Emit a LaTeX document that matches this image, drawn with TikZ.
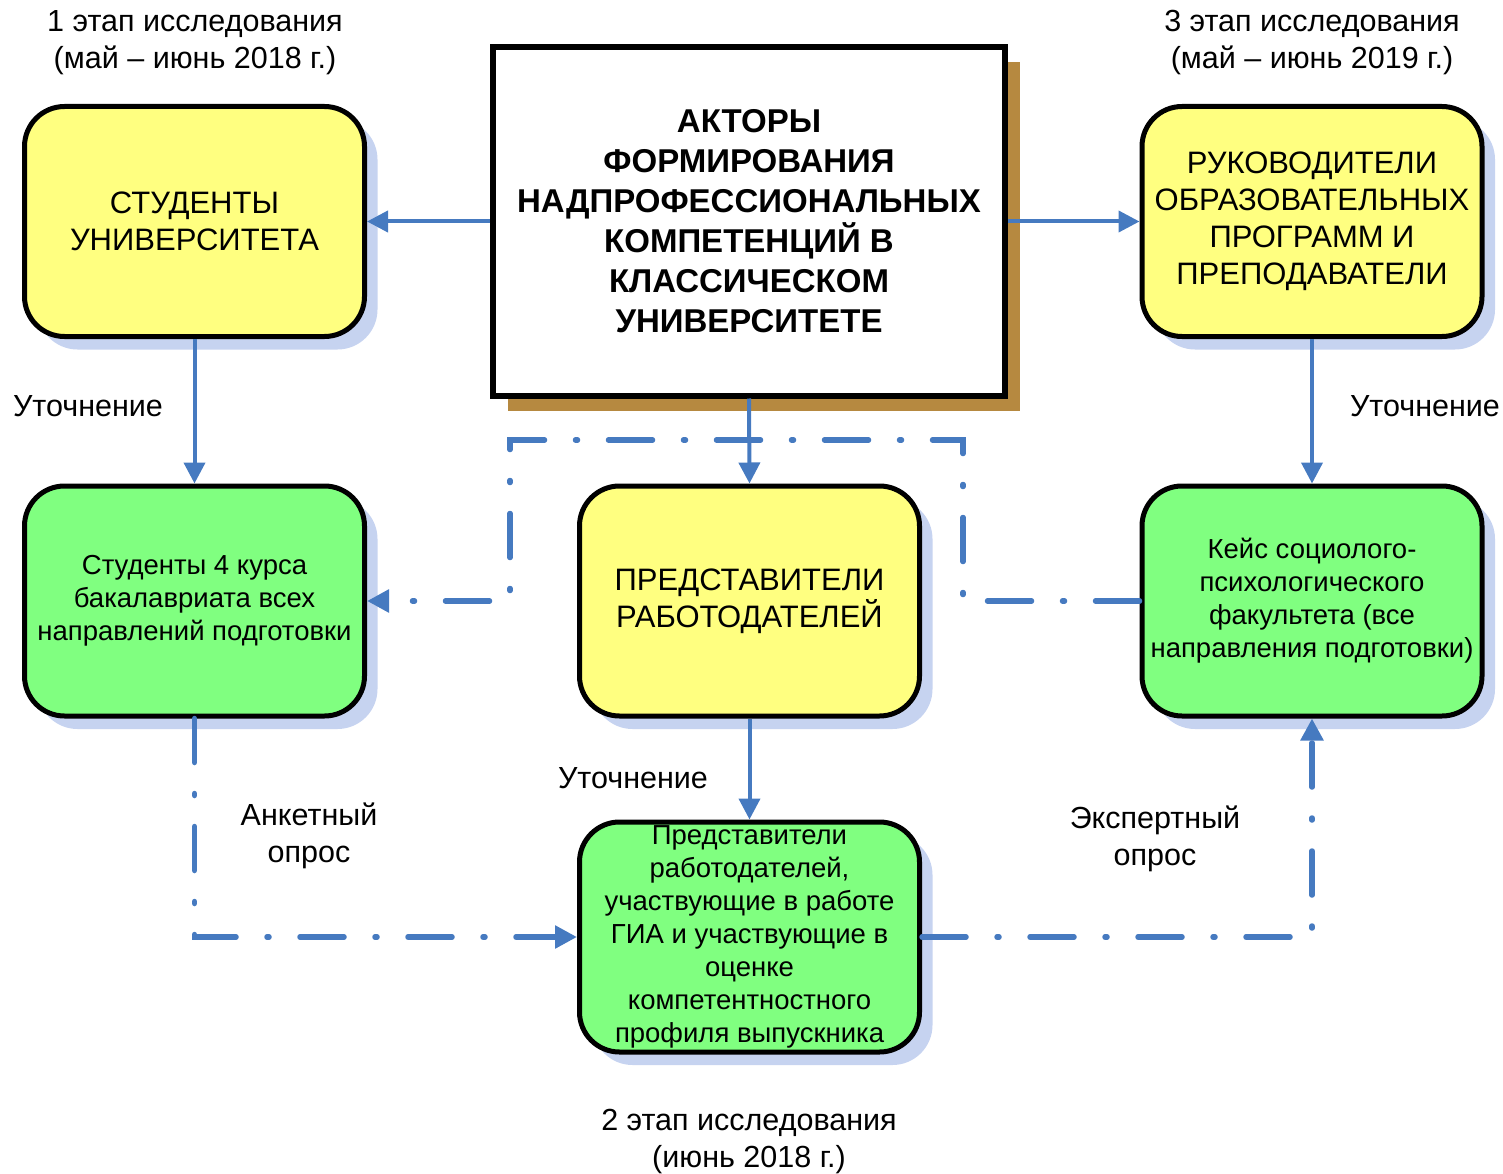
\documentclass[tikz,border=0pt]{standalone}
\usepackage{fontspec}
\setmainfont{Liberation Sans}
\usetikzlibrary{arrows.meta,shadows}
\definecolor{boxyellow}{RGB}{255,255,128}
\definecolor{boxgreen}{RGB}{128,255,128}
\definecolor{linkblue}{RGB}{70,122,192}
\definecolor{shadowblue}{RGB}{198,211,240}
\definecolor{shadowbrown}{RGB}{182,137,64}
\tikzset{
  actor/.style={draw=black, line width=5pt, rounded corners=40pt,
    minimum width=340pt, minimum height=230pt, inner sep=0pt, align=center,
    general shadow={shadow xshift=13pt, shadow yshift=-13pt, fill=shadowblue}},
  yellowbox/.style={actor, fill=boxyellow, font=\fontsize{31}{37}\selectfont},
  greenbox/.style={actor, fill=boxgreen, font=\fontsize{27.5}{33}\selectfont},
  mainbox/.style={draw=black, line width=6pt, fill=white,
    minimum width=512pt, minimum height=348pt, inner sep=0pt, align=center,
    font=\bfseries\fontsize{33}{40}\selectfont,
    general shadow={shadow xshift=15pt, shadow yshift=-15pt, fill=shadowbrown}},
  solidarrow/.style={draw=linkblue, line width=4pt, -{Triangle[length=21pt,width=21pt]}},
  dasharrow/.style={draw=linkblue, line width=5.5pt, line cap=round,
    dash pattern=on 44pt off 31pt on 2pt off 31pt,
    -{Triangle[length=22pt,width=22pt]}},
  caption/.style={font=\fontsize{30.5}{37}\selectfont, align=center, inner sep=0pt},
}
\begin{document}
\begin{tikzpicture}[x=1pt,y=-1pt]
\useasboundingbox (0,0) rectangle (1503,1174);

% boxes
\node[mainbox] (main) at (749,221.5) {АКТОРЫ\\ФОРМИРОВАНИЯ\\НАДПРОФЕССИОНАЛЬНЫХ\\КОМПЕТЕНЦИЙ В\\КЛАССИЧЕСКОМ\\УНИВЕРСИТЕТЕ};
\node[yellowbox] (tl) at (194.5,221.5) {СТУДЕНТЫ\\УНИВЕРСИТЕТА};
\node[yellowbox] (tr) at (1312,221.5) {РУКОВОДИТЕЛИ\\ОБРАЗОВАТЕЛЬНЫХ\\ПРОГРАММ И\\ПРЕПОДАВАТЕЛИ};
\node[greenbox] (ml) at (194.5,601) {Студенты 4 курса\\бакалавриата всех\\направлений подготовки};
\node[yellowbox] (mc) at (749.5,601) {ПРЕДСТАВИТЕЛИ\\РАБОТОДАТЕЛЕЙ};
\node[greenbox] (mr) at (1312,601) {Кейс социолого-\\психологического\\факультета (все\\направления подготовки)};
\node[greenbox] (bc) at (749.5,937) {Представители\\работодателей,\\участвующие в работе\\ГИА и участвующие в\\оценке\\компетентностного\\профиля выпускника};

% captions
\node[caption] (st1) at (195,43) {1 этап исследования\\(май – июнь 2018 г.)};
\node[caption] (st3) at (1312,43) {3 этап исследования\\(май – июнь 2019 г.)};
\node[caption] (st2) at (749,1141) {2 этап исследования\\(июнь 2018 г.)};
\node[caption] (ut1) at (88,406) {Уточнение};
\node[caption] (ut3) at (1425,406) {Уточнение};
\node[caption] (ut2) at (633,778) {Уточнение};
\node[caption] (ank) at (309,836) {Анкетный\\опрос};
\node[caption] (exp) at (1155,839) {Экспертный\\опрос};

% dash-dot connectors
\coordinate (c1) at (963,440);
\coordinate (c2) at (510,440);
\draw[dasharrow] (mr.west) -| (c1) -- (c2) |- (ml.east);
\draw[dasharrow] (ml.south) |- (bc.west);
\draw[dasharrow] (bc.east) -| (mr.south);

% solid connectors
\draw[solidarrow] (main.west) -- (tl.east);
\draw[solidarrow] (main.east) -- (tr.west);
\draw[solidarrow] (main.south) -- (mc.north);
\draw[solidarrow] (tl.south) -- (ml.north);
\draw[solidarrow] (tr.south) -- (mr.north);
\draw[solidarrow] (mc.south) -- (bc.north);
\end{tikzpicture}
\end{document}
